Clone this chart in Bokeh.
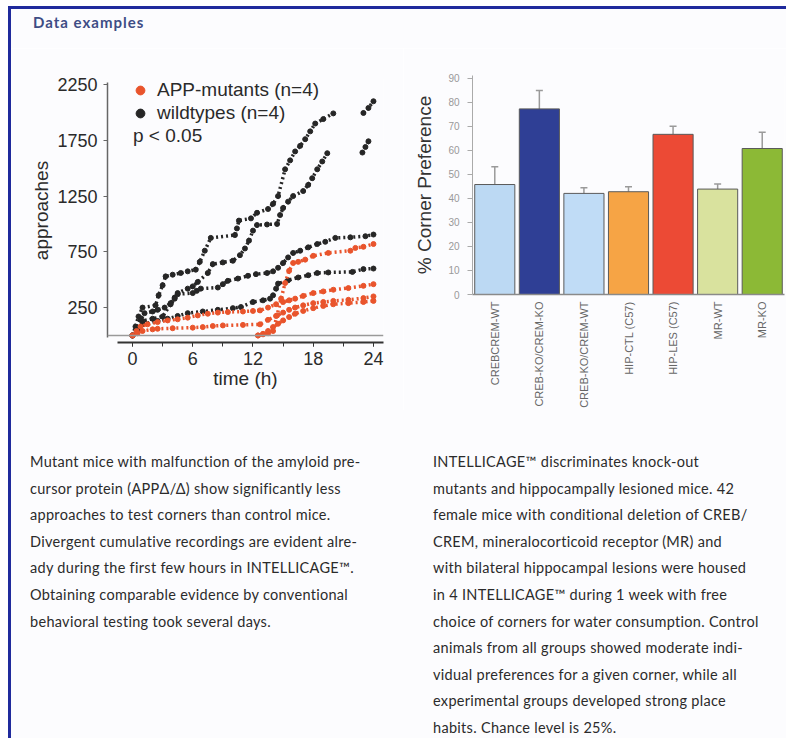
import math
from bokeh.plotting import figure
from bokeh.models import (Range1d, FixedTicker, Legend, LegendItem, Span, Div,
                          FactorRange, Whisker, ColumnDataSource, TeeHead)
from bokeh.layouts import column, row
from bokeh.embed import file_html
from bokeh.resources import INLINE

NaN = float("nan")

# ---------------- left chart data: cumulative approaches ----------------
time_ticks = [0, 6, 12, 18, 24]
time_minor = [0, 3, 6, 9, 12, 15, 18, 21, 24]
approach_ticks = [250, 750, 1250, 1750, 2250]

# wildtypes (n=4)
wt1_t = [0, 0.3, 0.6, 1.0, 2.3, 2.6, 3.0, 3.3, 4.0, 4.8, 5.5, 6.3, 6.7, 7.2, 7.8, 10.2, 10.4, 10.6,
         11.8, 12.4, 13.5, 14.0, 14.5, 15.2, 15.7, 16.2, 16.7, 17.2, 17.7, 18.2, 19.0, 20.0, NaN,
         23.0, 23.5, 24.0]
wt1_v = [0, 80, 170, 250, 270, 360, 450, 530, 545, 560, 575, 590, 660, 760, 875, 900, 960, 1030,
         1050, 1100, 1134, 1180, 1250, 1490, 1570, 1650, 1700, 1760, 1830, 1900, 1940, 1991, NaN,
         1995, 2040, 2100]
wt2_t = [0, 0.4, 0.8, 1.2, 2.0, 2.5, 3.2, 3.8, 4.2, 4.5, 5.5, 6.0, 6.5, 7.5, 8.0, 9.0, 10.0, 10.7,
         11.2, 11.6, 12.0, 12.4, 13.4, 14.4, 14.7, 15.0, 15.5, 16.0, 17.0, 17.5, 17.9, 18.4, 18.9,
         19.4, NaN, 22.9, 23.2, 23.5]
wt2_v = [0, 70, 140, 200, 215, 230, 250, 290, 340, 380, 420, 440, 480, 560, 640, 655, 670, 720,
         780, 850, 940, 990, 995, 1000, 1080, 1143, 1200, 1250, 1295, 1350, 1410, 1490, 1560,
         1634, NaN, 1640, 1690, 1741]
wt3_t = [0, 0.5, 1.0, 2.0, 3.0, 3.8, 4.2, 4.5, 6.0, 6.4, 6.8, 8.5, 9.0, 9.5, 10.5, 11.5, 12.3,
         13.4, 14.0, 14.5, 15.0, 15.5, 16.0, 16.7, 17.5, 18.4, 19.2, 20.2, 21.7, 23.2, 24.0]
wt3_v = [0, 60, 130, 150, 170, 280, 330, 370, 380, 400, 420, 430, 460, 490, 510, 535, 550,
         560, 575, 607, 650, 700, 740, 760, 790, 820, 840, 875, 880, 890, 905]
wt4_t = [0, 0.5, 1.0, 2.5, 3.5, 4.5, 5.5, 7.0, 8.5, 10.0, 10.8, 12.0, 13.0, 13.7, 14.0, 14.3,
         14.5, 15.5, 16.5, 17.5, 18.4, 19.5, 21.9, 23.0, 24.0]
wt4_v = [0, 50, 100, 130, 150, 175, 200, 215, 230, 245, 255, 300, 315, 330, 360, 420,
         465, 495, 520, 540, 560, 565, 570, 595, 600]

# APP-mutants (n=4)
app1_t = [12.5, 13.0, 13.5, 14.0, 14.4, 14.8, 15.2, 15.6, 16.0, 16.5, 17.2, 18.0, 19.5, 21.7,
          22.2, 23.0, 24.0]
app1_v = [0, 10, 20, 40, 180, 330, 470, 580, 650, 660, 680, 714, 740, 760, 785, 795, 820]
app2_t = [0, 0.4, 0.8, 1.5, 2.5, 3.5, 4.5, 5.5, 6.5, 7.5, 8.5, 9.5, 11.0, 12.0, 12.7, 13.5,
          14.3, 15.0, 15.6, 16.2, 17.0, 18.0, 19.0, 20.0, 21.5, 23.0, 24.0]
app2_v = [0, 40, 80, 100, 120, 135, 145, 160, 180, 195, 205, 210, 215, 220, 225, 250,
          280, 300, 315, 330, 355, 380, 395, 410, 425, 445, 460]
app3_t = [0, 0.5, 1.0, 2.0, 2.5, 4.0, 6.0, 7.0, 8.0, 9.0, 11.0, 12.7, 13.5, 14.3, 15.0, 15.6,
          16.2, 17.0, 18.0, 19.0, 20.0, 21.5, 23.0, 24.0]
app3_v = [0, 20, 40, 55, 60, 65, 70, 75, 85, 90, 95, 100, 140, 175, 205, 230,
          250, 270, 290, 300, 310, 320, 335, 350]
app4_t = [12.5, 13.0, 13.5, 14.0, 14.5, 15.0, 15.6, 16.2, 17.0, 18.0, 19.0, 20.0, 21.5, 23.0, 24.0]
app4_v = [0, 15, 40, 75, 105, 135, 165, 195, 220, 245, 265, 280, 290, 300, 310]

# ---------------- right chart data: corner preference ----------------
groups = ["CREBCREM-WT", "CREB-KO/CREM-KO", "CREB-KO/CREM-WT", "HIP-CTL (C57)",
          "HIP-LES (C57)", "MR-WT", "MR-KO"]
pref = [45.8, 77.3, 42.1, 42.8, 66.7, 43.9, 60.8]
pref_err = [7.4, 7.7, 2.4, 2.1, 3.4, 2.1, 6.8]
bar_colors = ["#bcd9f3", "#2f3f95", "#c0dcf6", "#f6a445", "#ec4a35", "#d9e29e", "#8cb936"]
pref_ticks = [0, 10, 20, 30, 40, 50, 60, 70, 80, 90]

# ---------------- texts ----------------
header_text = "Data examples"
left_lines = [
    "Mutant mice with malfunction of the amyloid pre-",
    "cursor protein (APP\u0394/\u0394) show significantly less",
    "approaches to test corners than control mice.",
    "Divergent cumulative recordings are evident alre-",
    "ady during the first few hours in INTELLICAGE\u2122.",
    "Obtaining comparable evidence by conventional",
    "behavioral testing took several days.",
]
right_lines = [
    "INTELLICAGE\u2122 discriminates knock-out",
    "mutants and hippocampally lesioned mice. 42",
    "female mice with conditional deletion of CREB/",
    "CREM, mineralocorticoid receptor (MR) and",
    "with bilateral hippocampal lesions were housed",
    "in 4 INTELLICAGE\u2122 during 1 week with free",
    "choice of corners for water consumption. Control",
    "animals from all groups showed moderate indi-",
    "vidual preferences for a given corner, while all",
    "experimental groups developed strong place",
    "habits. Chance level is 25%.",
]

BG = "#fcfcfe"
BLUE = "#1f2a9c"
BLACK = "#262626"
RED = "#e9542c"
FONT = "Liberation Sans"

# ---------------- left figure ----------------
p1 = figure(width=392, height=362, x_range=Range1d(-2.49, 25.0), y_range=Range1d(-63, 2304),
            output_backend="svg", toolbar_location=None,
            min_border_left=96, min_border_right=20, min_border_top=30, min_border_bottom=68,
            background_fill_color=BG, border_fill_color=BG, outline_line_color=None)
p1.grid.visible = False
p1.add_layout(Span(location=0, dimension="width", line_color="#9a9a9a", line_width=1.5))

black_marks = []
for t, v in [(wt1_t, wt1_v), (wt2_t, wt2_v), (wt3_t, wt3_v), (wt4_t, wt4_v)]:
    p1.line(t, v, line_color=BLACK, line_width=3.5, line_dash="2 3")
    black_marks.append(p1.scatter(t, v, size=5, color=BLACK))
red_marks = []
for t, v in [(app1_t, app1_v), (app2_t, app2_v), (app3_t, app3_v), (app4_t, app4_v)]:
    p1.line(t, v, line_color=RED, line_width=3.5, line_dash="2 3")
    red_marks.append(p1.scatter(t, v, size=5, color=RED))

leg_p = p1.scatter(x=[], y=[], size=1, fill_alpha=0, line_alpha=0)

legend = Legend(items=[LegendItem(label="APP-mutants (n=4)", renderers=[red_marks[0]]),
                       LegendItem(label="wildtypes (n=4)", renderers=[black_marks[0]])],
                location=(22, 218), margin=0, padding=0, spacing=1,
                glyph_width=22, glyph_height=22, label_height=22, label_standoff=6,
                background_fill_alpha=0, border_line_alpha=0,
                label_text_font=FONT, label_text_font_size="19px", label_text_color="#2a2a2a")
p1.add_layout(legend)
legend2 = Legend(items=[LegendItem(label="p < 0.05", renderers=[leg_p])],
                 location=(22, 195), margin=0, padding=0, spacing=0,
                 glyph_width=1, glyph_height=22, label_height=22, label_standoff=3,
                 background_fill_alpha=0, border_line_alpha=0,
                 label_text_font=FONT, label_text_font_size="19px", label_text_color="#2a2a2a")
p1.add_layout(legend2)

p1.yaxis.ticker = FixedTicker(ticks=approach_ticks)
p1.yaxis.bounds = (-20, 2270)
p1.yaxis.axis_label = "approaches"
p1.yaxis.axis_label_standoff = 2
p1.yaxis.major_label_standoff = 6
p1.xaxis.ticker = FixedTicker(ticks=time_ticks, minor_ticks=time_minor)
p1.xaxis.bounds = (-1.5, 25)
p1.xaxis.axis_label = "time (h)"
p1.xaxis.axis_label_standoff = 0
p1.xaxis.major_label_standoff = 5
for ax in (p1.xaxis, p1.yaxis):
    ax.axis_label_text_font = FONT
    ax.axis_label_text_font_size = "19px"
    ax.axis_label_text_font_style = "normal"
    ax.axis_label_text_color = "#2a2a2a"
    ax.major_label_text_font = FONT
    ax.major_label_text_font_size = "18px"
    ax.major_label_text_color = "#2a2a2a"
    ax.major_tick_in = 0
    ax.major_tick_out = 4
    ax.minor_tick_in = 0
    ax.minor_tick_out = 0
p1.xaxis.minor_tick_out = 4
p1.xaxis.axis_line_color = "#333333"
p1.xaxis.axis_line_width = 2
p1.xaxis.major_tick_line_color = "#333333"
p1.xaxis.minor_tick_line_color = "#333333"
p1.yaxis.axis_line_color = "#666666"
p1.yaxis.axis_line_width = 1.5
p1.yaxis.major_tick_line_color = "#666666"

# ---------------- right figure ----------------
p2 = figure(width=383, height=362, x_range=FactorRange(factors=groups), y_range=Range1d(0, 91.2),
            output_backend="svg", toolbar_location=None,
            min_border_left=69, min_border_right=2, min_border_top=27, min_border_bottom=112,
            background_fill_color=BG, border_fill_color=BG, outline_line_color=None)
p2.grid.visible = False
upper = [a + b for a, b in zip(pref, pref_err)]
src = ColumnDataSource(dict(g=groups, pref=pref, upper=upper, color=bar_colors))
p2.add_layout(Whisker(base="g", upper="upper", lower="pref", source=src,
                      line_color="#9a9a9a", line_width=1.5,
                      upper_head=TeeHead(size=7, line_color="#9a9a9a", line_width=1.5),
                      lower_head=None))
p2.vbar(x="g", top="pref", width=0.9, source=src, fill_color="color",
        line_color="#5a5a5a", line_width=1)

p2.yaxis.ticker = FixedTicker(ticks=pref_ticks)
p2.yaxis.axis_label = "% Corner Preference"
p2.yaxis.axis_label_text_font = FONT
p2.yaxis.axis_label_text_font_size = "19px"
p2.yaxis.axis_label_text_font_style = "normal"
p2.yaxis.axis_label_text_color = "#333333"
p2.yaxis.axis_label_standoff = 10
p2.yaxis.major_label_text_font = FONT
p2.yaxis.major_label_text_font_size = "10px"
p2.yaxis.major_label_text_color = "#999999"
p2.yaxis.major_label_standoff = 8
p2.yaxis.major_tick_in = 0
p2.yaxis.major_tick_out = 5
p2.yaxis.minor_tick_out = 0
p2.yaxis.axis_line_color = "#aaaaaa"
p2.yaxis.major_tick_line_color = "#aaaaaa"
p2.xaxis.axis_line_color = "#8a8a8a"
p2.xaxis.axis_line_width = 1.5
p2.xaxis.major_tick_in = 0
p2.xaxis.major_tick_out = 0
p2.xaxis.major_label_orientation = math.pi / 2
p2.xaxis.major_label_standoff = 7
p2.xaxis.major_label_text_font = FONT
p2.xaxis.major_label_text_font_size = "11px"
p2.xaxis.major_label_text_color = "#666666"

# ---------------- texts ----------------
header = Div(text=(f'<div style="width:775px;height:42px;box-sizing:border-box;border-top:3px solid {BLUE};'
                   f'background:{BG};padding:4px 0 0 22px;font-family:Lato;font-weight:bold;'
                   f'font-size:15px;line-height:18px;letter-spacing:1px;color:#3e4d85;">'
                   f'{header_text}</div>'),
             width=775, height=42, margin=0)

def text_div(lines, width, pad_left):
    html = (f'<div style="width:{width}px;height:328px;box-sizing:border-box;overflow:hidden;'
            f'background:{BG};padding:39px 0 0 {pad_left}px;font-family:Lato;font-size:14.5px;'
            f'line-height:26.6px;color:#2b2b2b;letter-spacing:0.3px;white-space:nowrap;">'
            + "<br>".join(lines) + '</div>')
    return Div(text=html, width=width, height=328, margin=0)

tl = text_div(left_lines, 392, 19)
tr = text_div(right_lines, 383, 30)
edge = Div(text="", width=3, height=732, margin=0, styles={"background-color": BLUE})

layout = row(edge, column(header, row(column(p1), column(p2)), row(tl, tr)),
             margin=(6, 0, 0, 8))

open("out.html", "w").write(file_html(layout, INLINE))
